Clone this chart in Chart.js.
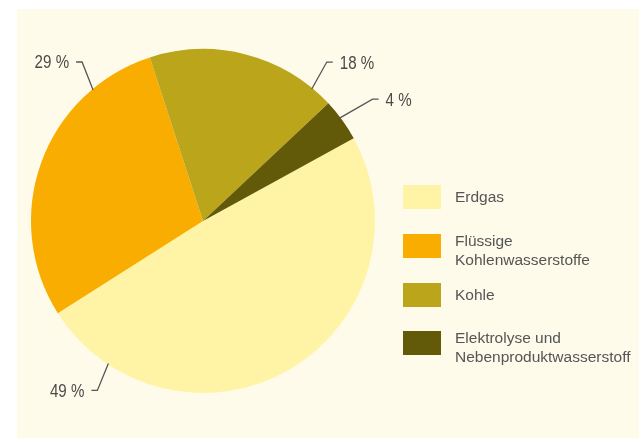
<!DOCTYPE html>
<html>
<head>
<meta charset="utf-8">
<script src="https://cdn.jsdelivr.net/npm/chart.js@4"></script>
<style>
  html, body { margin:0; padding:0; background:#ffffff; width:639px; height:438px; overflow:hidden; }
  #panel { position:absolute; left:17px; top:9px; width:622px; height:429px; background:#FEFBEA; }
  #c { position:absolute; left:0; top:0; }
  #legend { position:absolute; left:403px; top:0; font-family:"Liberation Sans", Arial, sans-serif; font-size:15.5px; color:#555; }
  .item { position:absolute; left:0; white-space:nowrap; }
  .sw { position:absolute; left:0; width:38px; height:24px; }
  .tx { position:absolute; left:52px; line-height:19px; }
</style>
</head>
<body>
<div id="panel"></div>
<canvas id="c" width="639" height="438"></canvas>
<div id="legend"></div>
<script>
// ---- data ----
const categories = ["Erdgas", "Flüssige Kohlenwasserstoffe", "Kohle", "Elektrolyse und Nebenproduktwasserstoff"];
const legendLines = [["Erdgas"], ["Flüssige", "Kohlenwasserstoffe"], ["Kohle"], ["Elektrolyse und", "Nebenproduktwasserstoff"]];
const shares = [49, 29, 18, 4];
const colors = ["#FFF4A6", "#F8AD00", "#BBA51A", "#625909"];

// ---- label layout (style) ----
const labelStyle = [
  { angle: 213.6, dx: -11, dy: 27, side: -1 },
  { angle: 320,   dx: -11, dy: -28, side: -1 },
  { angle: 39.5,  dx: 15,  dy: -27, side: 1 },
  { angle: 53,    dx: 33,  dy: -19, side: 1 }
];

const leaderPlugin = {
  id: 'leaders',
  afterDraw(chart) {
    const ctx = chart.ctx;
    const arcs = chart.getDatasetMeta(0).data;
    ctx.save();
    ctx.strokeStyle = '#555';
    ctx.lineWidth = 1.3;
    ctx.fillStyle = '#4a4a4a';
    ctx.font = '18px "Liberation Sans", Arial, sans-serif';
    ctx.textBaseline = 'middle';
    arcs.forEach((arc, i) => {
      const st = labelStyle[i];
      const a = st.angle * Math.PI / 180;
      const r = arc.outerRadius - 1;
      const ax = arc.x + r * Math.sin(a);
      const ay = arc.y - r * Math.cos(a);
      const ex = ax + st.dx, ey = ay + st.dy;
      const sx = ex + st.side * 6;
      ctx.beginPath();
      ctx.moveTo(ax, ay);
      ctx.lineTo(ex, ey);
      ctx.lineTo(sx, ey);
      ctx.stroke();
      ctx.save();
      ctx.translate(sx + st.side * 7, ey + 1.5);
      ctx.scale(0.84, 1);
      ctx.textAlign = st.side < 0 ? 'right' : 'left';
      ctx.fillText(shares[i] + ' %', 0, 0);
      ctx.restore();
    });
    ctx.restore();
  }
};

new Chart(document.getElementById('c'), {
  type: 'pie',
  data: {
    labels: categories,
    datasets: [{
      data: shares,
      backgroundColor: colors,
      borderWidth: 0,
      hoverOffset: 0,
      offset: 0
    }]
  },
  options: {
    responsive: false,
    animation: false,
    devicePixelRatio: 1,
    rotation: 61.2,
    layout: { padding: { left: 31, right: 264, top: 49, bottom: 45 } },
    plugins: { legend: { display: false }, tooltip: { enabled: false } },
    events: []
  },
  plugins: [leaderPlugin]
});

// ---- legend (HTML text) ----
const legendTops = [185, 234, 283, 331];
const legend = document.getElementById('legend');
categories.forEach((cat, i) => {
  const item = document.createElement('div');
  item.className = 'item';
  item.style.top = legendTops[i] + 'px';
  const sw = document.createElement('div');
  sw.className = 'sw';
  sw.style.background = colors[i];
  const tx = document.createElement('div');
  tx.className = 'tx';
  const lines = legendLines[i];
  tx.style.top = (lines.length === 1 ? 2 : -3) + 'px';
  tx.innerHTML = lines.join('<br>');
  item.appendChild(sw);
  item.appendChild(tx);
  legend.appendChild(item);
});
</script>
</body>
</html>
